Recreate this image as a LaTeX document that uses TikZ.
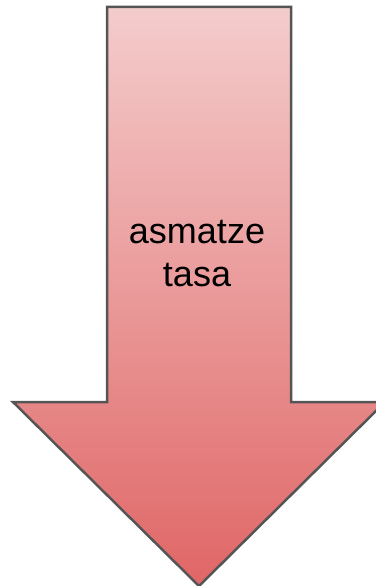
\documentclass[tikz,border=0pt]{standalone}
\usepackage{fontspec}
\setmainfont{Liberation Sans}
\definecolor{arrowtop}{HTML}{F4CCCC}
\definecolor{arrowbottom}{HTML}{E06666}
\definecolor{arrowline}{HTML}{555555}
\begin{document}
\begin{tikzpicture}[x=1pt, y=-1pt,
    arrowbody/.style={draw=arrowline, line width=2.5pt, line join=miter, top color=arrowtop, bottom color=arrowbottom},
    arrowtext/.style={align=center, font=\fontsize{36}{43}\selectfont}]
  \useasboundingbox (0,0) rectangle (375,586);

  % Freccia verso il basso
  \draw[arrowbody] (107,7) -- (291,7) -- (291,402) -- (385,402) -- (199,586) -- (13,402) -- (107,402) -- cycle;

  % Testo
  \node[arrowtext] (asmatze) at (197,254) {asmatze\\tasa};
\end{tikzpicture}
\end{document}
